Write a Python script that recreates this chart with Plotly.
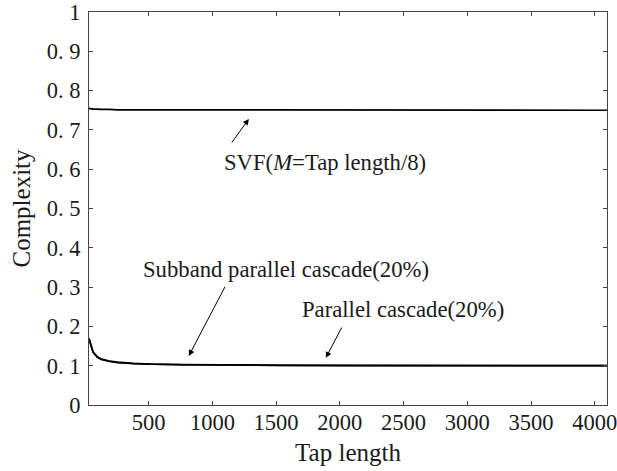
import plotly.graph_objects as go

tap = [32, 64, 96, 128, 192, 256, 384, 512, 768, 1024, 1536, 2048, 3072, 4096]
svf = [0.755, 0.753, 0.753, 0.752, 0.752, 0.751, 0.751, 0.751, 0.751, 0.750, 0.750, 0.750, 0.750, 0.750]
subband = [0.170, 0.135, 0.123, 0.117, 0.112, 0.109, 0.106, 0.104, 0.103, 0.102, 0.101, 0.101, 0.100, 0.100]
parallel = [0.168, 0.134, 0.122, 0.116, 0.111, 0.108, 0.105, 0.104, 0.102, 0.102, 0.101, 0.100, 0.100, 0.100]

xticks = [500, 1000, 1500, 2000, 2500, 3000, 3500, 4000]
yticks = [0, 0.1, 0.2, 0.3, 0.4, 0.5, 0.6, 0.7, 0.8, 0.9, 1]
ytext = ["0", "0. 1", "0. 2", "0. 3", "0. 4", "0. 5", "0. 6", "0. 7", "0. 8", "0. 9", "1"]

FONT = "Liberation Serif, Times New Roman, serif"
TXT = "#1a1a1a"

fig = go.Figure()
for name, ys in [("SVF", svf), ("Subband parallel cascade", subband), ("Parallel cascade", parallel)]:
    fig.add_trace(go.Scatter(x=tap, y=ys, mode="lines", name=name,
                             line=dict(color="black", width=1.7)))

ann = [
    dict(text="SVF(<i>M</i>=Tap length/8)", x=1882, y=0.616, ax=1144, ay=0.664, tx=1286, ty=0.728),
    dict(text="Subband parallel cascade(20%)", x=1576, y=0.346, ax=1106, ay=0.305, tx=815, ty=0.125),
    dict(text="Parallel cascade(20%)", x=2497, y=0.242, ax=2021, ay=0.201, tx=1890, ty=0.120),
]
for a in ann:
    fig.add_annotation(x=a["x"], y=a["y"], text=a["text"], showarrow=False,
                       xanchor="center", yanchor="middle",
                       font=dict(family=FONT, size=22.7, color=TXT))
    fig.add_annotation(x=a["tx"], y=a["ty"], ax=a["ax"], ay=a["ay"],
                       xref="x", yref="y", axref="x", ayref="y", text="",
                       showarrow=True, arrowhead=2, arrowsize=1.2, arrowwidth=1,
                       arrowcolor="black")

axis_common = dict(showgrid=False, zeroline=False, showline=True, linecolor="#444",
                   linewidth=1, mirror="ticks", ticks="inside", ticklen=4,
                   tickcolor="#444", automargin=False,
                   ticklabeloverflow="allow",
                   tickfont=dict(family=FONT, size=22.5, color=TXT))

fig.update_xaxes(range=[32, 4096], tickvals=xticks, ticktext=[str(v) for v in xticks],
                 ticklabelstandoff=-3,
                 title=dict(text="Tap length", font=dict(family=FONT, size=25, color=TXT), standoff=9),
                 **axis_common)
fig.update_yaxes(range=[0, 1], tickvals=yticks, ticktext=ytext,
                 ticklabelstandoff=3,
                 title=dict(text="Complexity", font=dict(family=FONT, size=25, color=TXT), standoff=9),
                 **axis_common)

fig.update_layout(width=617, height=471, showlegend=False,
                  margin=dict(l=89, r=10, t=12, b=66),
                  plot_bgcolor="white", paper_bgcolor="white")

fig.write_html("out.html")
